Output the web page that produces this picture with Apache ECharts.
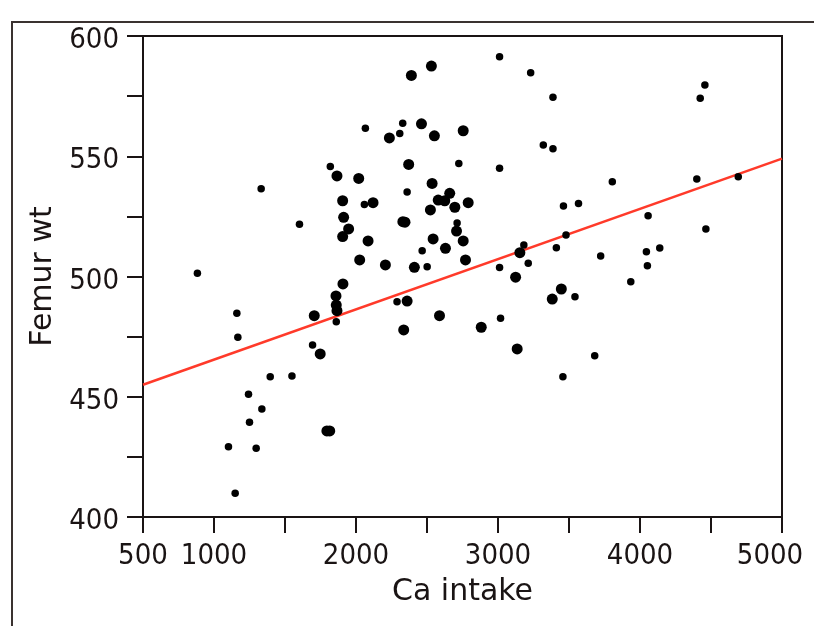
<!DOCTYPE html>
<html>
<head>
<meta charset="utf-8">
<title>Femur wt vs Ca intake</title>
<script src="https://cdn.jsdelivr.net/npm/echarts@6/dist/echarts.min.js"></script>
<style>
    html, body { margin: 0; padding: 0; background: #fff; }
    #chart { width: 814px; height: 626px; }
</style>
</head>
<body>
<div id="chart"></div>
<script>
// ---------------- data ----------------
// larger dots
let bigCa = [2531, 2390, 2461, 2235, 2552, 2755, 1866, 2019, 2371, 2536, 2660, 2579, 2625, 1906, 2120, 2696, 2790,
    2524, 1913, 2330, 2345, 1948, 2708, 1906, 2085, 2543, 2755, 2630, 2026, 2207, 2411, 2771, 3154, 3124,
    1908, 1859, 1861, 1866, 1706, 2360, 2588, 2336, 1748, 1795, 1815, 3446, 3382, 2882, 3135];
let bigFemur = [587.5, 583.6, 563.5, 557.6, 558.5, 560.6, 541.8, 540.8, 546.6, 538.7, 534.6, 531.8, 531.5, 531.5, 530.7, 528.8, 530.7,
    527.7, 524.6, 522.8, 522.6, 519.8, 518.9, 516.6, 514.8, 515.6, 514.8, 511.7, 506.9, 504.8, 503.8, 506.9, 509.9, 499.7,
    496.9, 491.9, 488.1, 485.8, 483.7, 489.8, 483.7, 477.8, 467.8, 435.8, 435.8, 494.8, 490.6, 478.9, 469.9];
// smaller dots
let smallCa = [2066, 2329, 2308, 1819, 2724, 1332, 2360, 2059, 1602, 2712, 2466, 2501, 883, 3011, 3230, 3387, 4457,
    4424, 3319, 3387, 3011, 3805, 4400, 4692, 3461, 3567, 4057, 4464, 3182, 3479, 3411, 3723, 4045, 4139,
    4052, 3213, 3011, 3935, 1861, 2289, 1161, 1168, 1694, 1396, 1549, 1243, 1337, 1250, 1102, 1297, 1149,
    3542, 3018, 3681, 3457];
let smallFemur = [561.6, 563.7, 559.5, 545.7, 547, 536.5, 535.1, 529.9, 521.7, 522.2, 510.7, 504.1, 501.3, 591.4, 584.7, 574.5, 579.6,
    574.1, 554.7, 553.1, 545, 539.4, 540.5, 541.5, 529.3, 530.4, 525.3, 519.8, 513.1, 517.3, 512, 508.5, 510.3, 511.8,
    504.5, 505.5, 503.7, 497.8, 481.2, 489.5, 484.7, 474.7, 471.5, 458.3, 458.6, 451, 444.9, 439.4, 429.2, 428.6, 409.9,
    491.6, 482.6, 467, 458.3];
// fitted line ends
let fitCa = [500, 5000];
let fitFemur = [455, 549];
// ticks
let xLabelled = [500, 1000, 2000, 3000, 4000, 5000];
let yLabelled = [400, 450, 500, 550, 600];

function pairs(xs, ys) {
    return xs.map((x, i) => [x, ys[i]]);
}

let font = 'DejaVu Sans';
let tickFont = '"DejaVu Sans Condensed", "DejaVu Sans", sans-serif';
let ink = '#1a1414';

let myChart = echarts.init(document.getElementById('chart'));
let option = {
    animation: false,
    backgroundColor: '#fff',
    // outer frame, cut off at the right and bottom edges
    graphic: [{
        type: 'rect',
        z: -10,
        shape: { x: 12, y: 22, width: 900, height: 700 },
        style: { fill: 'none', stroke: '#3a3230', lineWidth: 2 }
    }],
    grid: {
        left: 143, right: 32, top: 36, bottom: 109,
        outerBoundsMode: 'none',
        containLabel: false,
        show: true,
        borderColor: ink,
        borderWidth: 2,
        backgroundColor: '#fff'
    },
    xAxis: {
        type: 'value',
        min: 500, max: 5000, interval: 500,
        name: 'Ca intake',
        nameLocation: 'middle',
        nameGap: 60,
        nameTextStyle: { fontFamily: font, fontSize: 30, color: ink },
        axisLine: { lineStyle: { color: ink, width: 2 } },
        axisTick: { show: true, inside: false, length: 16, lineStyle: { color: ink, width: 2 } },
        splitLine: { show: false },
        axisLabel: {
            margin: 25,
            fontFamily: tickFont, fontSize: 29, color: ink,
            // last label is pushed left so it stays inside the picture
            formatter: v => {
                if (!xLabelled.includes(v)) return '';
                return v === 5000 ? '{last|' + v + '}' : String(v);
            },
            rich: {
                last: { fontFamily: tickFont, fontSize: 29, color: ink, padding: [0, 24, 0, 0] }
            }
        }
    },
    yAxis: {
        type: 'value',
        min: 400, max: 600, interval: 25,
        name: 'Femur wt',
        nameLocation: 'middle',
        nameRotate: 90,
        nameGap: 82,
        nameTextStyle: { fontFamily: font, fontSize: 30, color: ink },
        axisLine: { show: true, lineStyle: { color: ink, width: 2 } },
        axisTick: { show: true, inside: false, length: 16, lineStyle: { color: ink, width: 2 } },
        splitLine: { show: false },
        axisLabel: {
            margin: 24,
            color: ink,
            // labels sit a little below their ticks
            formatter: v => yLabelled.includes(v) ? '{y|' + v + '}' : '',
            rich: {
                y: { fontFamily: tickFont, fontSize: 29, color: ink, padding: [9, 0, 0, 0] }
            }
        }
    },
    series: [
        {
            name: 'fit',
            type: 'line',
            data: pairs(fitCa, fitFemur),
            symbol: 'none',
            lineStyle: { color: '#ff3a2a', width: 2.5 },
            z: 3
        },
        {
            name: 'big',
            type: 'scatter',
            data: pairs(bigCa, bigFemur),
            symbolSize: 11,
            itemStyle: { color: '#000', opacity: 1 },
            z: 4
        },
        {
            name: 'small',
            type: 'scatter',
            data: pairs(smallCa, smallFemur),
            symbolSize: 7.5,
            itemStyle: { color: '#000', opacity: 1 },
            z: 4
        }
    ]
};
myChart.setOption(option);
</script>
</body>
</html>
